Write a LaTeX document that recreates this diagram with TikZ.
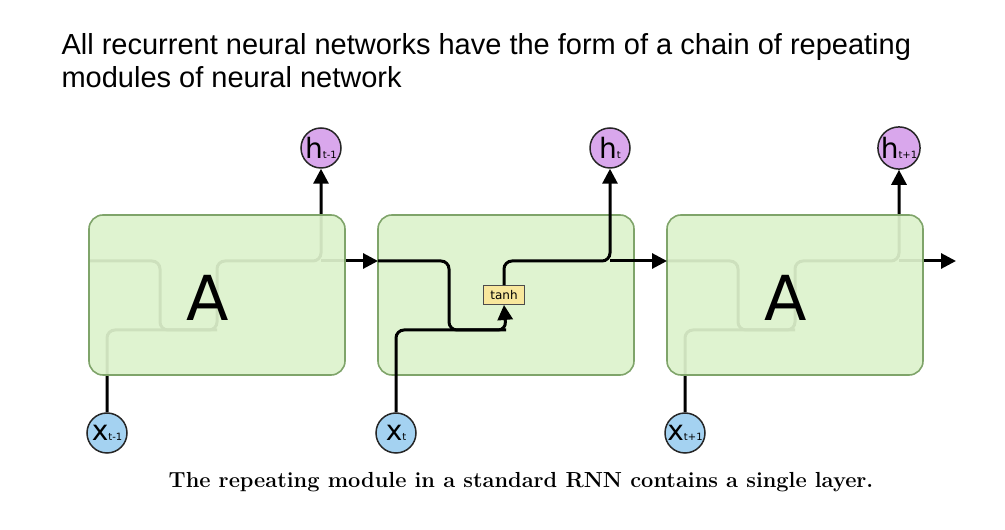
\documentclass[tikz,border=0pt]{standalone}
\usepackage{fontspec}
\newfontfamily\titlefont{Liberation Sans}
\newfontfamily\labelfont{DejaVu Sans}
\usetikzlibrary{arrows.meta,backgrounds}
\definecolor{cellfill}{HTML}{DDF2CC}
\definecolor{cellline}{HTML}{7FA46A}
\definecolor{hfill}{HTML}{D9A7EC}
\definecolor{xfill}{HTML}{A4D2F1}
\definecolor{tanhfill}{HTML}{F8E79C}
\tikzset{
    cell/.style={draw=cellline, fill=cellfill, fill opacity=0.93, text opacity=1,
        line width=1.6pt, rounded corners=14pt, minimum width=256pt, minimum height=160pt},
    state/.style={circle, draw=black!85, line width=1.5pt, minimum size=40pt, inner sep=0pt},
    hcirc/.style={state, fill=hfill},
    xcirc/.style={state, fill=xfill},
    flow/.style={line width=3pt, rounded corners=8pt},
    flowarr/.style={flow, -{Triangle[length=15pt,width=15pt]}},
    layerbox/.style={draw=black!70, fill=tanhfill, line width=0.9pt, inner sep=2pt,
        minimum width=41pt, minimum height=19pt, font=\labelfont\fontsize{12}{12}\selectfont},
    bigA/.style={font=\labelfont\fontsize{62}{62}\selectfont},
}
\newcommand\Sub[2]{{\labelfont\fontsize{28}{28}\selectfont #1}{\labelfont\fontsize{10}{10}\selectfont #2}}
\newcommand\RnnCell[3]{%
    \node[cell] (cell#1) at (#2,235) {};
    \node[hcirc] (h#1) at (#2+104,382) {\Sub{h}{#3}};
    \node[xcirc] (x#1) at (#2-110,97) {\Sub{x}{#3}};
    \coordinate (in#1) at (#2-128,269);
    \coordinate (dn#1) at (#2-57,269);
    \coordinate (lo#1) at (#2,200);
    \coordinate (up#1) at (#2,269);
    \coordinate (out#1) at (#2+104,269);
}
\newcommand\FadedFlow[1]{%
    \draw[flowarr] (x#1.north) |- (lo#1) |- (out#1) -- (h#1.south);
    \draw[flow] (in#1) -| (dn#1 |- lo#1) -- (lo#1);
    \draw[flow] (out#1) -- (cell#1.east |- out#1);
}

\begin{document}
\begin{tikzpicture}[x=1pt,y=1pt]
    \useasboundingbox (0,0) rectangle (1005,530);
    \node[anchor=base west, font=\titlefont\fontsize{29}{33}\selectfont] (title1) at (58,475)
        {All recurrent neural networks have the form of a chain of repeating};
    \node[anchor=base west, font=\titlefont\fontsize{29}{33}\selectfont] (title2) at (58,442)
        {modules of neural network};

    \RnnCell{1}{217}{t-1}
    \RnnCell{2}{506}{t}
    \RnnCell{3}{795}{t+1}
    \node[bigA] (lblA1) at (208,232) {A};
    \node[bigA] (lblA3) at (786,232) {A};

    % seen through the outer cells
    \begin{pgfonlayer}{background}
        \FadedFlow{1}
        \FadedFlow{3}
    \end{pgfonlayer}

    % middle cell
    \node[layerbox] (tanh) at (504,235) {tanh};
    \draw[flow] (in2) -| (dn2 |- lo2) -- (lo2);
    \draw[flowarr] (x2.north) |- (lo2) -- (tanh.south);
    \draw[flowarr] (tanh.north) |- (out2) -- (h2.south);
    \draw[flow] (out2) -- (cell2.east |- out2);

    \draw[flowarr] (cell1.east |- in1) -- (in2);
    \draw[flowarr] (cell2.east |- in2) -- (in3);
    \coordinate (chainEnd) at (956,269);
    \draw[flowarr] (cell3.east |- in3) -- (chainEnd);

    \node[anchor=base, font=\bfseries\fontsize{21.8}{24}\selectfont] (caption) at (521,42)
        {The repeating module in a standard RNN contains a single layer.};
\end{tikzpicture}
\end{document}
